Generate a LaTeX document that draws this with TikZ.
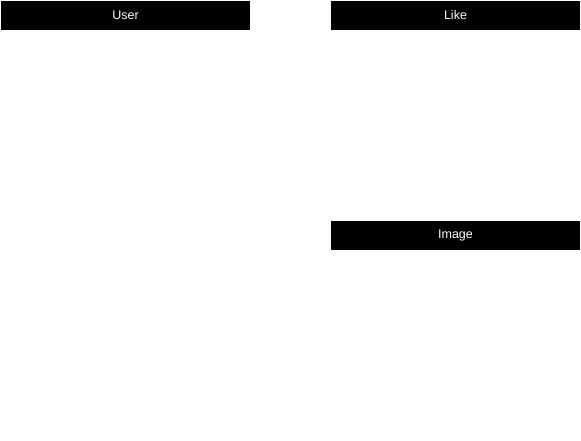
\documentclass[tikz,border=0pt]{standalone}
\usepackage{fontspec}
\setmainfont{Liberation Sans}
\usepackage{tikz}
\usetikzlibrary{positioning}

\begin{document}
\begin{tikzpicture}[-,auto,node distance=330pt, semithick]
 		\tikzstyle{head}=[fill=black, text=white, minimum width=249pt, minimum height=29pt, inner sep=0pt, font=\fontsize{12.5}{14}\selectfont]
		\useasboundingbox (0,0) rectangle (581pt,-441pt);
			\node[head]  (user) at (125.5pt,-15.5pt) {User};
			\node[head]  (like) [right of=user]{Like};
			\node[head]  (image) [below of=like, node distance=220pt]{Image};
 	\end{tikzpicture}
\end{document}
